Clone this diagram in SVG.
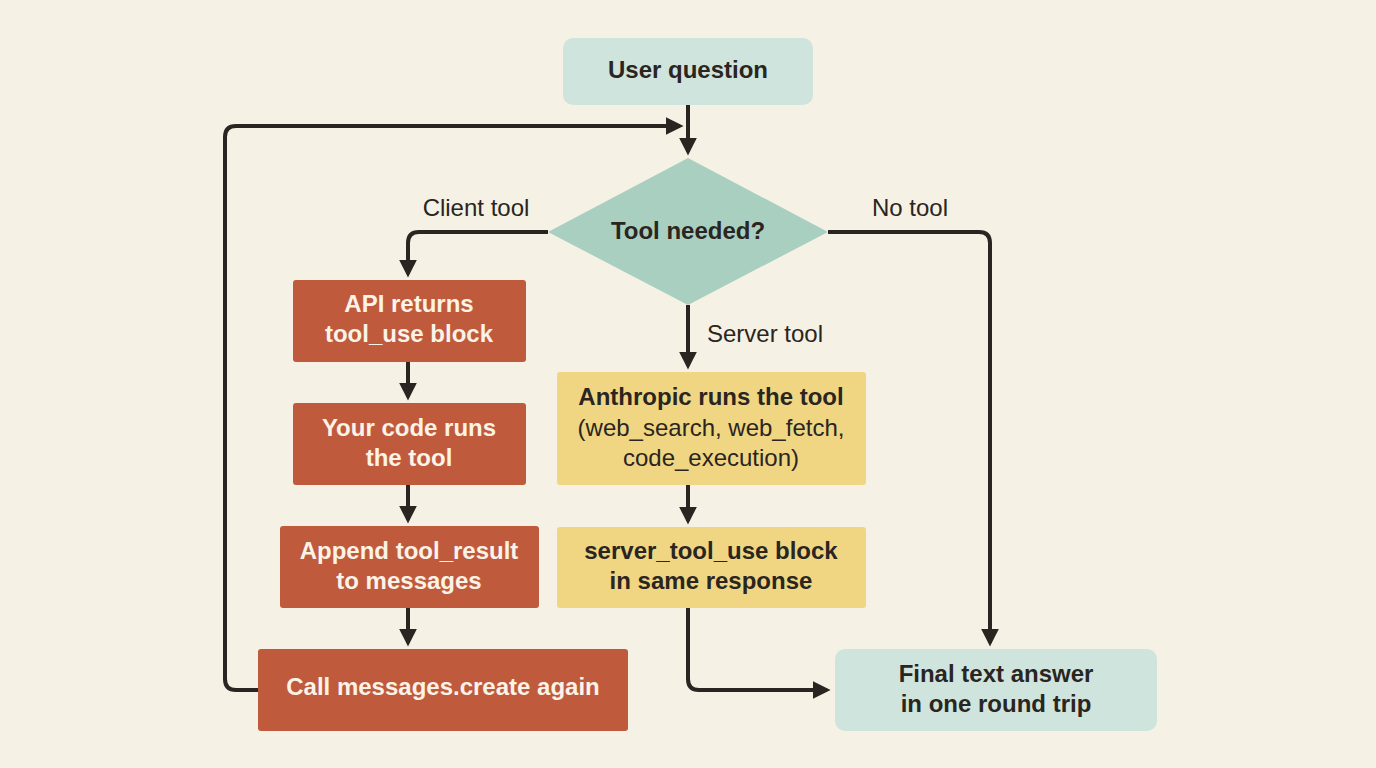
<svg xmlns="http://www.w3.org/2000/svg" width="1376" height="768" viewBox="0 0 1376 768">
<style>
text{font-family:"Liberation Sans",Arial,sans-serif;font-weight:bold;font-size:24px;text-anchor:middle;dominant-baseline:middle}
.dk{fill:#2a2520}.wt{fill:#fbf3e8}
.lbl{font-weight:normal;fill:#2a2520}
.red{fill:#bf5b3c}.yel{fill:#f0d683}.tea{fill:#cfe4dc}
.c{fill:none;stroke:#2a2520;stroke-width:4;stroke-linejoin:round}
</style>
<defs><marker id="a" viewBox="0 0 10 10" refX="8" refY="5" markerWidth="4.5" markerHeight="4.5" orient="auto"><path d="M0,0L10,5L0,10z" fill="#2a2520"/></marker></defs>
<rect width="1376" height="768" fill="#f5f1e4"/>
<g id="connectors">
<path class="c" d="M688,105V152" marker-end="url(#a)"/>
<path class="c" d="M258,690H236Q225,690 225,679V137Q225,126 236,126H680" marker-end="url(#a)"/>
<path class="c" d="M548,232H419Q408,232 408,243V274" marker-end="url(#a)"/>
<path class="c" d="M408,362V397" marker-end="url(#a)"/>
<path class="c" d="M408,485V520" marker-end="url(#a)"/>
<path class="c" d="M408,608V643" marker-end="url(#a)"/>
<path class="c" d="M688,305V366" marker-end="url(#a)"/>
<path class="c" d="M688,485V521" marker-end="url(#a)"/>
<path class="c" d="M688,608V679Q688,690 699,690H827" marker-end="url(#a)"/>
<path class="c" d="M828,232H979Q990,232 990,243V643" marker-end="url(#a)"/>
<text class="lbl" x="476" y="210">Client tool</text>
<text class="lbl" x="910" y="210">No tool</text>
<text class="lbl" x="765" y="336">Server tool</text>
</g>
<g id="user"><rect class="tea" x="563" y="38" width="250" height="67" rx="10"/><text class="dk" x="688" y="72">User question</text></g>
<g id="decision"><polygon points="688,158 828,232 688,305 548,232" fill="#a9cfc1"/><text class="dk" x="688" y="233">Tool needed?</text></g>
<g id="api"><rect class="red" x="293" y="280" width="233" height="82" rx="3"/><text class="wt" x="409" y="306">API returns</text><text class="wt" x="409" y="336">tool_use block</text></g>
<g id="yourcode"><rect class="red" x="293" y="403" width="233" height="82" rx="3"/><text class="wt" x="409" y="430">Your code runs</text><text class="wt" x="409" y="460">the tool</text></g>
<g id="append"><rect class="red" x="280" y="526" width="259" height="82" rx="3"/><text class="wt" x="409" y="553">Append tool_result</text><text class="wt" x="409" y="583">to messages</text></g>
<g id="call"><rect class="red" x="258" y="649" width="370" height="82" rx="3"/><text class="wt" x="443" y="689">Call messages.create again</text></g>
<g id="anthropic"><rect class="yel" x="557" y="372" width="309" height="113" rx="3"/><text class="dk" x="711" y="399">Anthropic runs the tool</text><text class="dk" x="711" y="430" style="font-weight:normal">(web_search, web_fetch,</text><text class="dk" x="711" y="460" style="font-weight:normal">code_execution)</text></g>
<g id="servertool"><rect class="yel" x="557" y="527" width="309" height="81" rx="3"/><text class="dk" x="711" y="553">server_tool_use block</text><text class="dk" x="711" y="583">in same response</text></g>
<g id="final"><rect class="tea" x="835" y="649" width="322" height="82" rx="10"/><text class="dk" x="996" y="676">Final text answer</text><text class="dk" x="996" y="706">in one round trip</text></g>
</svg>
